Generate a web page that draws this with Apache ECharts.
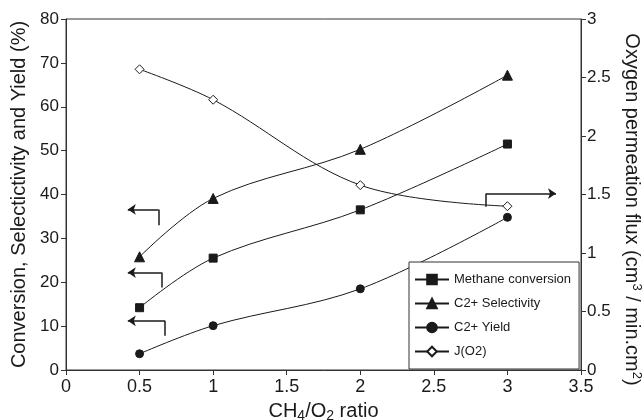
<!DOCTYPE html>
<html>
<head>
<meta charset="utf-8">
<script src="https://cdn.jsdelivr.net/npm/echarts@6/dist/echarts.min.js"></script>
<style>
  html, body { margin: 0; padding: 0; background: #fff; }
  #chart { width: 643px; height: 420px; }
</style>
</head>
<body>
<div id="chart"></div>
<script>
const ratios = [0.5, 1, 2, 3]
const methaneConversion = [14.2, 25.5, 36.5, 51.5]
const c2Selectivity = [25.8, 39.1, 50.3, 67.2]
const c2Yield = [3.7, 10.1, 18.5, 34.8]
const oxygenFlux = [2.57, 2.31, 1.58, 1.40]

// arrow annotations in data units of the left axis: [cornerX, topY, bottomY, tipX]
const arrows = [
  [0.628, 36.6, 33.0, 0.42],
  [0.650, 22.2, 18.8, 0.42],
  [0.673, 11.2, 7.8, 0.42],
  [2.855, 40.2, 37.2, 3.33]
]

const pairs = (ys) => ratios.map((x, i) => [x, ys[i]])
const black = '#1a1a1a'
const font = 'Liberation Sans, Arial, sans-serif'

const arrowLines = []
arrows.forEach(([cx, top, bottom, tip]) => {
  arrowLines.push([{ coord: [cx, bottom], symbol: 'none' }, { coord: [cx, top], symbol: 'none' }])
  arrowLines.push([{ coord: [cx, top], symbol: 'none' }, { coord: [tip, top], symbol: 'arrow' }])
})

const baseSeries = {
  type: 'line',
  smooth: 0.35,
  lineStyle: { color: black, width: 1 },
  itemStyle: { color: black, borderColor: black, borderWidth: 1 },
  emphasis: { disabled: true }
}

const chart = echarts.init(document.getElementById('chart'))
chart.setOption({
  animation: false,
  textStyle: { fontFamily: font },
  grid: {
    left: 66, right: 62, top: 19, bottom: 50,
    outerBoundsMode: 'none',
    show: true, borderColor: '#333', borderWidth: 1
  },
  legend: {
    left: 409,
    top: 262,
    orient: 'vertical',
    itemWidth: 34,
    itemHeight: 12,
    itemGap: 11,
    padding: [11, 8, 11, 5],
    backgroundColor: '#fff',
    borderColor: '#333',
    borderWidth: 1,
    textStyle: { fontSize: 13, color: black, fontFamily: font },
    data: ['Methane conversion', 'C2+ Selectivity', 'C2+ Yield', 'J(O2)']
  },
  xAxis: {
    type: 'value',
    min: 0,
    max: 3.5,
    interval: 0.5,
    splitLine: { show: false },
    axisLine: { lineStyle: { color: '#333' } },
    axisTick: { length: 5, lineStyle: { color: '#333' } },
    axisLabel: { fontSize: 18, color: black, margin: 8 },
    name: '{n|CH}{s|4}{n|/O}{s|2}{n| ratio}',
    nameLocation: 'middle',
    nameGap: 29,
    nameTextStyle: {
      rich: {
        n: { fontSize: 20, color: black, fontFamily: font },
        s: { fontSize: 14, color: black, fontFamily: font, padding: [10, 0, 0, 0] }
      }
    }
  },
  yAxis: [
    {
      type: 'value',
      min: 0,
      max: 80,
      interval: 10,
      splitLine: { show: false },
      axisLine: { show: true, lineStyle: { color: '#333' } },
      axisTick: { show: true, length: 5, lineStyle: { color: '#333' } },
      axisLabel: { fontSize: 17, color: black, margin: 7 },
      name: 'Conversion, Selectictivity and Yield (%)',
      nameLocation: 'middle',
      nameGap: 35,
      nameTextStyle: { fontSize: 20, color: black }
    },
    {
      type: 'value',
      min: 0,
      max: 3,
      interval: 0.5,
      position: 'right',
      splitLine: { show: false },
      axisLine: { show: true, lineStyle: { color: '#333' } },
      axisTick: { show: true, length: 5, lineStyle: { color: '#333' } },
      axisLabel: { fontSize: 17, color: black, margin: 6 },
      name: '{n|Oxygen permeation flux (cm}{p|3}{n| / min.cm}{p|2}{n|)}',
      nameLocation: 'middle',
      nameRotate: -90,
      nameGap: 36,
      nameTextStyle: {
        padding: [0, 0, 0, 30],
        rich: {
          n: { fontSize: 20, color: black, fontFamily: font },
          p: { fontSize: 13, color: black, fontFamily: font, padding: [0, 0, 10, 0] }
        }
      }
    }
  ],
  series: [
    Object.assign({}, baseSeries, {
      name: 'Methane conversion',
      symbol: 'rect',
      symbolSize: 8,
      data: pairs(methaneConversion),
      markLine: {
        silent: true,
        symbolSize: 8,
        label: { show: false },
        lineStyle: { color: black, width: 1.5, type: 'solid' },
        data: arrowLines
      }
    }),
    Object.assign({}, baseSeries, {
      name: 'C2+ Selectivity',
      symbol: 'triangle',
      symbolSize: 10,
      data: pairs(c2Selectivity)
    }),
    Object.assign({}, baseSeries, {
      name: 'C2+ Yield',
      symbol: 'circle',
      symbolSize: 8,
      data: pairs(c2Yield)
    }),
    Object.assign({}, baseSeries, {
      name: 'J(O2)',
      yAxisIndex: 1,
      symbol: 'diamond',
      symbolSize: 9,
      itemStyle: { color: '#fff', borderColor: black, borderWidth: 1 },
      data: pairs(oxygenFlux)
    })
  ]
})
</script>
</body>
</html>
